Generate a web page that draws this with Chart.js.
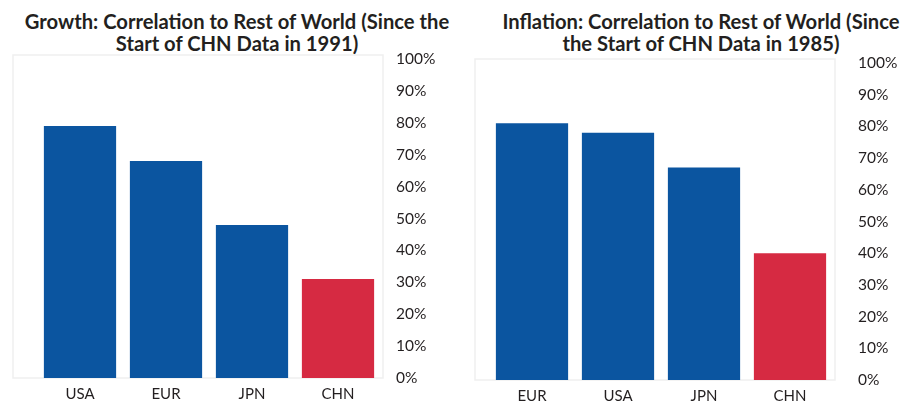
<!DOCTYPE html>
<html>
<head>
<meta charset="utf-8">
<script src="https://cdn.jsdelivr.net/npm/chart.js@4"></script>
<style>
  html, body { margin: 0; padding: 0; background: #fff; }
  #wrap { position: relative; width: 909px; height: 406px; overflow: hidden; }
  .title { position: absolute; top: 10px; font-family: Lato, "Open Sans", sans-serif; font-weight: 700;
           font-size: 20.2px; line-height: 22px; color: #231f20; text-align: center; white-space: nowrap; }
  .cv { position: absolute; top: 0; }
</style>
</head>
<body>
<div id="wrap">
  <div class="title" id="t1" style="left:17px; width:440px;">Growth: Correlation to Rest of World (Since the<br>Start of CHN Data in 1991)</div>
  <div class="title" id="t2" style="left:481px; width:440px;">Inflation: Correlation to Rest of World (Since<br>the Start of CHN Data in 1985)</div>
  <div class="cv" style="left:0px; width:455px; height:406px;"><canvas id="c1" width="455" height="406"></canvas></div>
  <div class="cv" style="left:455px; width:454px; height:406px;"><canvas id="c2" width="454" height="406"></canvas></div>
</div>
<script>
// ---- data ----
const growthCategories = ["USA", "EUR", "JPN", "CHN"];
const growthValues = [0.79, 0.68, 0.48, 0.31];
const inflationCategories = ["EUR", "USA", "JPN", "CHN"];
const inflationValues = [0.81, 0.78, 0.67, 0.40];
const tickValues = [0, 0.1, 0.2, 0.3, 0.4, 0.5, 0.6, 0.7, 0.8, 0.9, 1.0];
const tickLabels = ["0%", "10%", "20%", "30%", "40%", "50%", "60%", "70%", "80%", "90%", "100%"];

const BLUE = "#0b55a0";
const RED = "#d62a42";

const framePlugin = {
  id: "frame",
  beforeDraw(chart, args, opts) {
    const a = chart.chartArea, ctx = chart.ctx;
    ctx.save();
    ctx.strokeStyle = "#efefef";
    ctx.lineWidth = 1.5;
    ctx.strokeRect(a.left - opts.extraLeft, a.top - 4, a.right - a.left + opts.extraLeft + 2, a.bottom - a.top + 4);
    ctx.restore();
  }
};

function makeChart(id, cats, vals, pad, tickPad, extraLeft, xHeight) {
  const colors = cats.map(c => c === "CHN" ? RED : BLUE);
  return new Chart(document.getElementById(id), {
    type: "bar",
    data: { labels: cats, datasets: [{ data: vals, backgroundColor: colors, borderWidth: 0,
            categoryPercentage: 1.0, barPercentage: 0.84 }] },
    options: {
      responsive: false, animation: false,
      layout: { padding: pad },
      plugins: { legend: { display: false }, tooltip: { enabled: false }, frame: { extraLeft } },
      scales: {
        x: {
          grid: { display: false, drawTicks: false }, border: { display: false },
          afterFit(scale) { scale.height = xHeight; },
          ticks: { color: "#231f20", padding: 7, font: { family: "Lato", size: 15 } }
        },
        y: {
          position: "right", min: 0, max: 1,
          grid: { display: false, drawTicks: false }, border: { display: false },
          afterBuildTicks(scale) { scale.ticks = tickValues.map(v => ({ value: v })); },
          afterFit(scale) { scale.width = tickPad + 48; scale.paddingTop = 10; scale.paddingBottom = 10; },
          ticks: {
            padding: tickPad, color: "#231f20", font: { family: "Lato", size: 15.5 },
            callback: (v) => tickLabels[tickValues.findIndex(t => Math.abs(t - v) < 1e-9)]
          }
        }
      }
    },
    plugins: [framePlugin]
  });
}

makeChart("c1", growthCategories, growthValues, { left: 37, right: 455 - 381 - 63, top: 59, bottom: 0 }, 15, 24, 28);
makeChart("c2", inflationCategories, inflationValues, { left: 34, right: 454 - 378 - 73, top: 63, bottom: 0 }, 25, 14, 26);
</script>
</body>
</html>
